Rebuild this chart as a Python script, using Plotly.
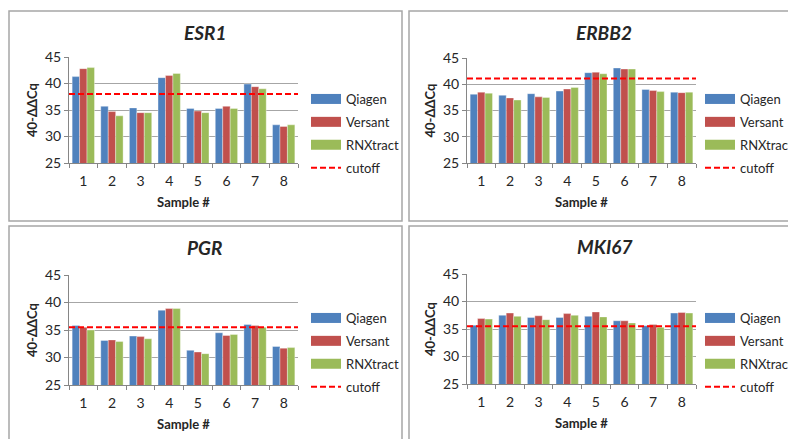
import plotly.graph_objects as go

W, H = 788, 439

samples = ["1", "2", "3", "4", "5", "6", "7", "8"]
series_names = ["Qiagen", "Versant", "RNXtract"]
colors = ["#4F81BD", "#C0504D", "#9BBB59"]

genes = ["ESR1", "ERBB2", "PGR", "MKI67"]

esr1_qiagen = [41.3, 35.7, 35.4, 41.1, 35.3, 35.3, 39.9, 32.2]
esr1_versant = [42.8, 34.7, 34.5, 41.5, 34.8, 35.7, 39.4, 31.9]
esr1_rnxtract = [43.0, 33.9, 34.5, 41.9, 34.5, 35.3, 39.0, 32.2]
esr1_cutoff = 38.0

erbb2_qiagen = [38.1, 37.9, 38.2, 38.7, 42.2, 43.1, 39.0, 38.5]
erbb2_versant = [38.5, 37.4, 37.6, 39.1, 42.3, 42.9, 38.8, 38.4]
erbb2_rnxtract = [38.3, 37.0, 37.5, 39.4, 42.0, 42.9, 38.6, 38.5]
erbb2_cutoff = 41.1

pgr_qiagen = [35.8, 33.1, 33.9, 38.6, 31.3, 34.5, 36.0, 32.0]
pgr_versant = [35.5, 33.2, 33.8, 38.9, 31.0, 34.0, 35.8, 31.7]
pgr_rnxtract = [35.0, 32.9, 33.4, 38.9, 30.7, 34.2, 35.5, 31.8]
pgr_cutoff = 35.5

mki67_qiagen = [35.7, 37.5, 37.1, 37.1, 37.3, 36.5, 35.6, 37.9]
mki67_versant = [36.9, 37.9, 37.4, 37.8, 38.1, 36.5, 35.8, 38.0]
mki67_rnxtract = [36.8, 37.3, 36.7, 37.5, 37.2, 36.1, 35.3, 37.9]
mki67_cutoff = 35.5

y_range = [25, 45]
y_dtick = 5
y_title = "40-ΔΔCq"
x_title = "Sample #"

data = {
    "ESR1": ([esr1_qiagen, esr1_versant, esr1_rnxtract], esr1_cutoff),
    "ERBB2": ([erbb2_qiagen, erbb2_versant, erbb2_rnxtract], erbb2_cutoff),
    "PGR": ([pgr_qiagen, pgr_versant, pgr_rnxtract], pgr_cutoff),
    "MKI67": ([mki67_qiagen, mki67_versant, mki67_rnxtract], mki67_cutoff),
}

# layout geometry (pixels)
plot_boxes = {
    "ESR1": (69, 298, 57, 163),
    "ERBB2": (467, 696, 58, 163),
    "PGR": (69, 298, 275, 385),
    "MKI67": (467, 696, 274, 384),
}
panel_boxes = {
    "ESR1": (9, 402, 11, 221),
    "ERBB2": (409, 800, 11, 221),
    "PGR": (9, 402, 226, 460),
    "MKI67": (409, 800, 226, 460),
}
title_pos = {
    "ESR1": (205, 32),
    "ERBB2": (604, 32),
    "PGR": (205, 247),
    "MKI67": (604, 246),
}
legend_pos = {
    "ESR1": (306, 84),
    "ERBB2": (700, 84),
    "PGR": (306, 303),
    "MKI67": (700, 303),
}

FONT = "Lato, 'Open Sans', sans-serif"
AXIS_GRAY = "#868686"
TEXT = "#262626"

fig = go.Figure()

def px(x):
    return x / W

def py(y):
    return 1 - y / H

layout = dict(
    width=W, height=H,
    margin=dict(l=0, r=0, t=0, b=0, autoexpand=False),
    paper_bgcolor="white", plot_bgcolor="white",
    barmode="group", bargap=0.22, bargroupgap=0.0,
    font=dict(family=FONT, size=13, color=TEXT),
    showlegend=True,
    shapes=[], annotations=[],
)

for i, g in enumerate(genes):
    k = "" if i == 0 else str(i + 1)
    xa, ya = "x" + k, "y" + k
    lg = "legend" + k
    vals, cutoff = data[g]
    for name, col, v in zip(series_names, colors, vals):
        fig.add_trace(go.Bar(
            x=samples, y=v, name=name,
            marker=dict(color=col, line=dict(width=0.6, color="rgba(255,255,255,0.6)")),
            xaxis=xa, yaxis=ya, showlegend=False,
        ))
    for name, col in zip(series_names, colors):
        fig.add_trace(go.Scatter(
            x=[None], y=[None], mode="lines", name=name,
            line=dict(color=col, width=10),
            xaxis=xa, yaxis=ya, legend=lg, showlegend=True, legendgroup=name,
        ))
    x0, x1, y0, y1 = plot_boxes[g]
    layout["xaxis" + k] = dict(
        domain=[px(x0), px(x1)], anchor=ya, type="category",
        showline=True, linecolor=AXIS_GRAY, linewidth=1,
        ticks="outside", ticklen=4, tickcolor=AXIS_GRAY, tickson="boundaries",
        ticklabelstandoff=5,
        tickfont=dict(size=14, color=TEXT), showgrid=False,
        title=dict(text="<b>" + x_title + "</b>", font=dict(size=13, color=TEXT), standoff=10),
        fixedrange=True, automargin=False,
    )
    layout["yaxis" + k] = dict(
        domain=[py(y1), py(y0)], anchor=xa, range=y_range, dtick=y_dtick,
        showline=True, linecolor=AXIS_GRAY, linewidth=1,
        ticks="outside", ticklen=4, tickcolor=AXIS_GRAY,
        showgrid=True, gridcolor="#A6A6A6", gridwidth=1.2, zeroline=False,
        tickfont=dict(size=14, color=TEXT),
        title=dict(text="<b>" + y_title + "</b>", font=dict(size=13, color=TEXT), standoff=4),
        fixedrange=True, automargin=False,
    )
    layout["shapes"].append(dict(
        type="line", xref=xa + " domain", yref=ya, x0=0, x1=1, y0=cutoff, y1=cutoff,
        line=dict(color="#FF0000", width=2, dash="6px,3px"),
        showlegend=True, name="cutoff", legend=lg, legendgroup="cutoff", layer="above",
    ))
    lx, ly = legend_pos[g]
    layout[lg] = dict(
        x=px(lx), y=py(ly), xanchor="left", yanchor="top",
        font=dict(size=13, color=TEXT), bgcolor="rgba(0,0,0,0)",
        itemwidth=30, tracegroupgap=3, borderwidth=0,
    )
    # panel border
    bx0, bx1, by0, by1 = panel_boxes[g]
    layout["shapes"].append(dict(
        type="rect", xref="paper", yref="paper",
        x0=px(bx0), x1=px(bx1), y0=py(by1), y1=py(by0),
        line=dict(color="#A6A6A6", width=1.5), layer="below",
    ))
    tx, ty = title_pos[g]
    layout["annotations"].append(dict(
        text="<b><i>" + g + "</i></b>", xref="paper", yref="paper",
        x=px(tx), y=py(ty), xanchor="center", yanchor="middle",
        showarrow=False, font=dict(size=19, color=TEXT, family=FONT),
    ))

fig.update_layout(**layout)
fig.write_html(
    "out.html",
    config={"displayModeBar": False},
    post_script="document.body.style.margin='0';document.body.style.overflow='hidden';",
)
